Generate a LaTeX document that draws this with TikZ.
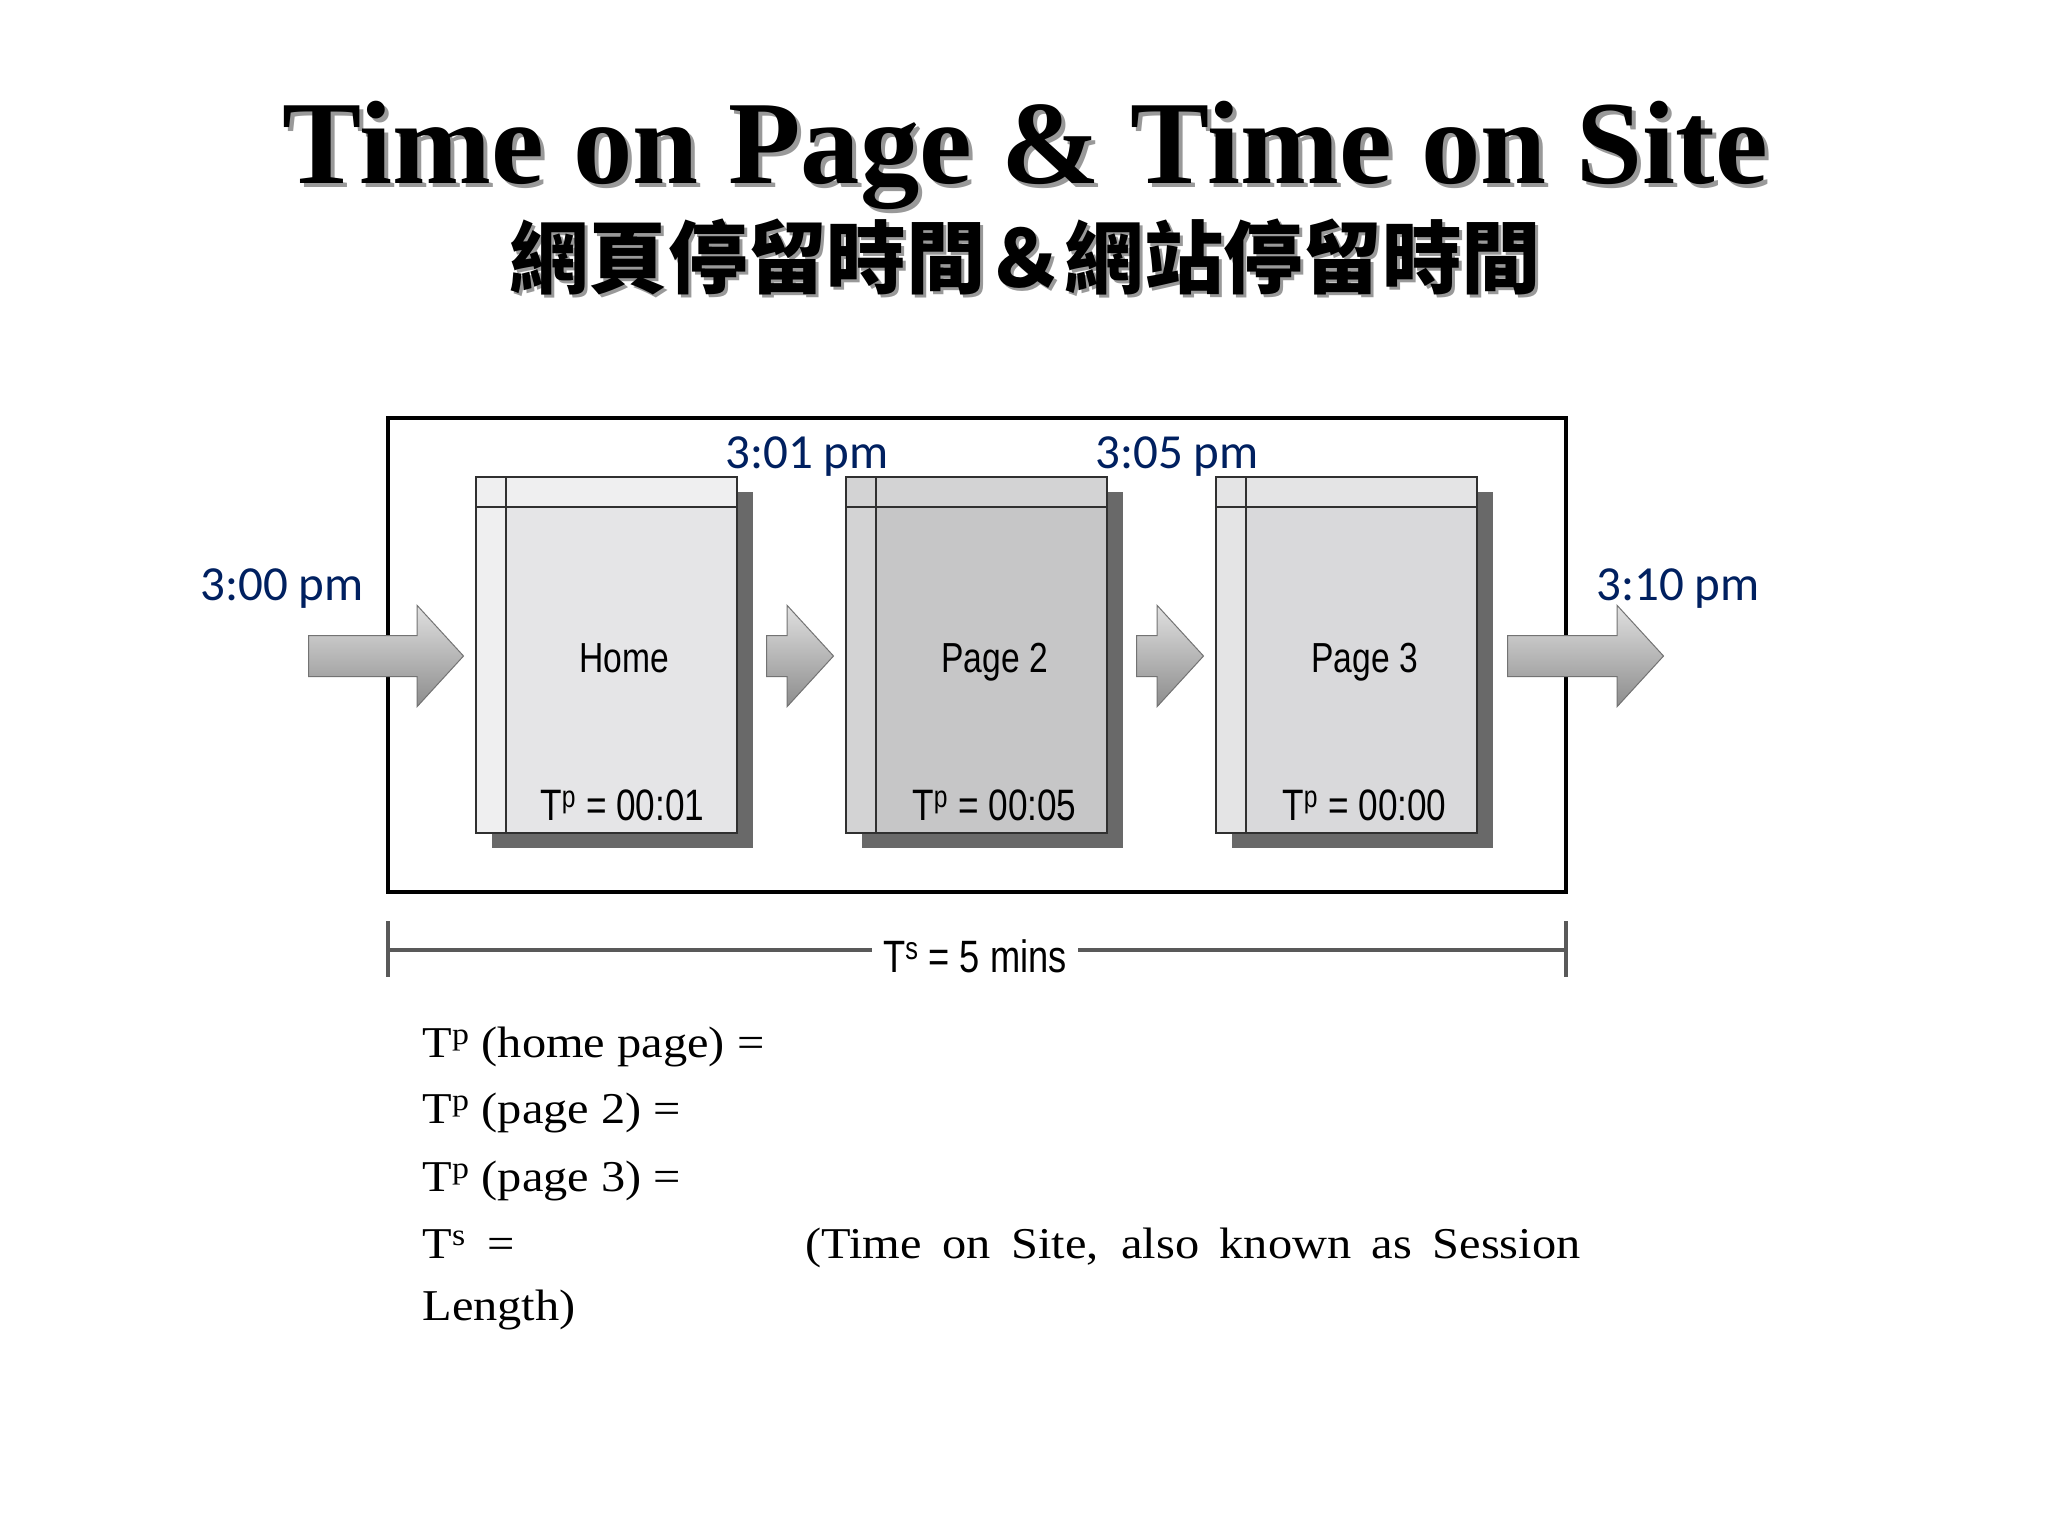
\documentclass[tikz,border=0pt]{standalone}
\usepackage{fontspec}
\setmainfont{Liberation Serif}
\newfontfamily\cjkfont{Noto Sans CJK TC}
\newfontfamily\timefont{Carlito}
\newfontfamily\narrowfont{Liberation Sans}[FakeStretch=0.8]
\newfontfamily\notefont{Liberation Serif}[FakeStretch=1.1]
\usetikzlibrary{calc,shapes.arrows,shadows}

\definecolor{timeblue}{RGB}{0,32,96}
\definecolor{pgone}{RGB}{229,229,231}
\definecolor{pgonelt}{RGB}{239,239,240}
\definecolor{pgtwo}{RGB}{198,198,199}
\definecolor{pgtwolt}{RGB}{211,211,212}
\definecolor{pgthree}{RGB}{217,217,219}
\definecolor{pgthreelt}{RGB}{228,228,229}
\definecolor{pageshadow}{RGB}{105,105,105}
\definecolor{linegray}{RGB}{48,48,48}

\tikzset{every picture/.style={line width=0.75pt}}

\begin{document}
\begin{tikzpicture}[x=0.75pt,y=0.75pt,yscale=-1,xscale=1,
  ttl/.style={font=\fontsize{89}{92}\selectfont\bfseries, anchor=base, inner sep=0pt},
  cjk/.style={font=\cjkfont\bfseries\fontsize{59.5}{62}\selectfont, inner sep=0pt},
  pagebox/.style={draw=linegray, line width=1.5pt, outer sep=0pt, inner sep=0pt,
    minimum width=195.75pt, minimum height=267pt,
    drop shadow={shadow xshift=12pt, shadow yshift=-11.25pt, fill=pageshadow, opacity=1}},
  pagerule/.style={draw=linegray, line width=1.5pt},
  blockarrow/.style={single arrow, draw=black!55, line width=0.75pt,
    top color=black!12, bottom color=black!45, inner sep=15pt,
    single arrow head extend=22.5pt, single arrow tip angle=95,
    anchor=tail, minimum height=#1},
  timetext/.style={font=\timefont\fontsize{36.75}{40}\selectfont, text=timeblue, anchor=base, inner sep=0pt},
  pagelabel/.style={font=\narrowfont\fontsize{31.5}{34}\selectfont, anchor=base, inner sep=0pt},
  pagetime/.style={font=\narrowfont\fontsize{33}{36}\selectfont, anchor=base, inner sep=0pt},
  tslabel/.style={font=\narrowfont\fontsize{34}{36}\selectfont, anchor=base, inner xsep=8pt, inner ysep=0pt},
  note/.style={font=\notefont\fontsize{33}{36}\selectfont, anchor=base west, inner sep=0pt},
  sitebox/.style={draw=black, line width=3pt},
  timeline/.style={draw=black!65, line width=2.4pt}]

		\fill[white] (0,0) rectangle (2048,1536);
		\useasboundingbox (0,0) rectangle (2048,1536);

		% title
		\node[ttl, text=black!40] (ttlsh) at (1029,187) {Time on Page \& Time on Site};
		\node[ttl] (ttl) at (1025,183) {Time on Page \& Time on Site};
		\node[cjk, text=black!40] (subsh) at (1028,260) {網頁停留時間＆網站停留時間};
		\node[cjk] (sub) at (1025,257) {網頁停留時間＆網站停留時間};

		% site frame
		\draw[sitebox] (388,418) rectangle (1566,892);

		% home page
		\node[pagebox, fill=pgone] (home) at (606.5,655) {};
		\fill[pgonelt] (home.north west) rectangle ($(home.north east)+(0,30)$);
		\fill[pgonelt] ($(home.north west)+(0,30)$) rectangle ($(home.south west)+(30,0)$);
		\draw[pagerule] ($(home.north west)+(0,30)$) -- ($(home.north east)+(0,30)$);
		\draw[pagerule] ($(home.north west)+(30,0)$) -- ($(home.south west)+(30,0)$);
		\draw[pagerule] (home.north west) rectangle (home.south east);
		\node[pagelabel] (homelbl) at ($(home.center)+(18,17)$) {Home};
		\node[pagetime] (hometp) at ($(home.south)+(16,-13)$) {T\textsuperscript{p} = 00:01};

		% page 2
		\node[pagebox, fill=pgtwo] (page2) at (976.5,655) {};
		\fill[pgtwolt] (page2.north west) rectangle ($(page2.north east)+(0,30)$);
		\fill[pgtwolt] ($(page2.north west)+(0,30)$) rectangle ($(page2.south west)+(30,0)$);
		\draw[pagerule] ($(page2.north west)+(0,30)$) -- ($(page2.north east)+(0,30)$);
		\draw[pagerule] ($(page2.north west)+(30,0)$) -- ($(page2.south west)+(30,0)$);
		\draw[pagerule] (page2.north west) rectangle (page2.south east);
		\node[pagelabel] (page2lbl) at ($(page2.center)+(18,17)$) {Page 2};
		\node[pagetime] (page2tp) at ($(page2.south)+(18,-13)$) {T\textsuperscript{p} = 00:05};

		% page 3
		\node[pagebox, fill=pgthree] (page3) at (1346.5,655) {};
		\fill[pgthreelt] (page3.north west) rectangle ($(page3.north east)+(0,30)$);
		\fill[pgthreelt] ($(page3.north west)+(0,30)$) rectangle ($(page3.south west)+(30,0)$);
		\draw[pagerule] ($(page3.north west)+(0,30)$) -- ($(page3.north east)+(0,30)$);
		\draw[pagerule] ($(page3.north west)+(30,0)$) -- ($(page3.south west)+(30,0)$);
		\draw[pagerule] (page3.north west) rectangle (page3.south east);
		\node[pagelabel] (page3lbl) at ($(page3.center)+(18,17)$) {Page 3};
		\node[pagetime] (page3tp) at ($(page3.south)+(18,-13)$) {T\textsuperscript{p} = 00:00};

		% arrows between pages
		\node[blockarrow=116.25pt] (arrin) at ($(home.west)+(-168,1)$) {};
		\node[blockarrow=50.25pt] (arr12) at ($(home.east)+(29,1)$) {};
		\node[blockarrow=50.25pt] (arr23) at ($(page2.east)+(29,1)$) {};
		\node[blockarrow=117pt] (arrout) at ($(page3.east)+(30,1)$) {};

		% clock times
		\node[timetext] (t300) at (282,600) {3:00 pm};
		\node[timetext] (t301) at (807,468) {3:01 pm};
		\node[timetext] (t305) at (1177,468) {3:05 pm};
		\node[timetext] (t310) at (1678,600) {3:10 pm};

		% session length
		\coordinate (tl) at (388,950);
		\coordinate (tr) at (1566,950);
		\node[tslabel] (ts) at (975,972) {T\textsuperscript{s} = 5 mins};
		\draw[timeline] (tl) -- (tl -| ts.west);
		\draw[timeline] (tr -| ts.east) -- (tr);
		\draw[timeline] (388,921) -- (388,977);
		\draw[timeline] (1566,921) -- (1566,977);

		% notes
		\node[note] (n1) at (422,1057) {T\textsuperscript{p} (home page) =};
		\node[note] (n2) at (422,1123) {T\textsuperscript{p} (page 2) =};
		\node[note] (n3) at (422,1191) {T\textsuperscript{p} (page 3) =};
		\node[note] (n4) at (422,1258) {T\textsuperscript{s}\enspace=};
		\node[note] (n4b) at (805,1258) {\makebox[581.25pt][s]{(Time on Site, also known as Session}};
		\node[note] (n5) at (422,1320) {Length)};

\end{tikzpicture}
\end{document}
